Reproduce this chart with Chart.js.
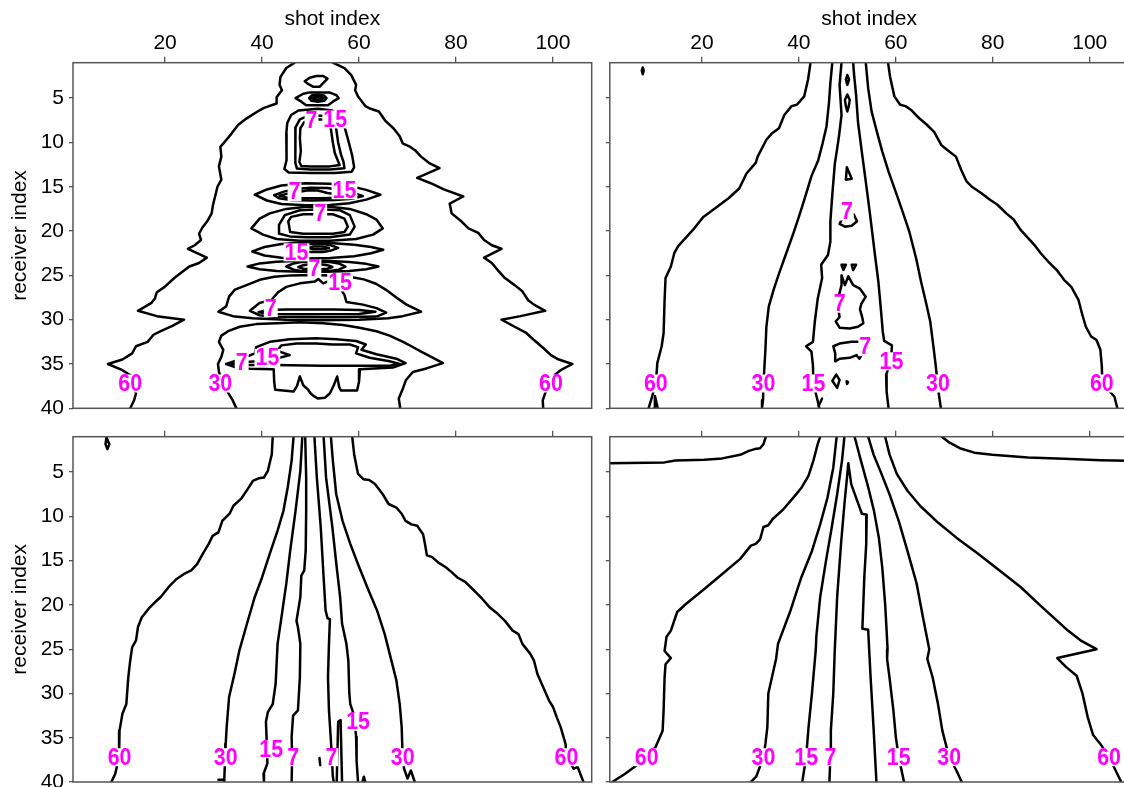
<!DOCTYPE html>
<html><head><meta charset="utf-8">
<script src="https://cdn.jsdelivr.net/npm/chart.js@4.4.0/dist/chart.umd.min.js"></script>
<style>
html,body{margin:0;padding:0;background:#fff;overflow:hidden;width:1124px;height:787px;position:relative;}
canvas{position:absolute;}
</style></head><body>
<canvas id="c1"></canvas><canvas id="c2"></canvas><canvas id="c3"></canvas><canvas id="c4"></canvas>
<script>
// ---------- axes ----------
const shotTicks = [20, 40, 60, 80, 100];
const receiverTicks = [5, 10, 15, 20, 25, 30, 35, 40];
const shotRange = [1, 108];
const receiverRange = [1, 40];

// ---------- panel 1 (top left) contour lines [shot, receiver] ----------
const p1_60L = [[46.7,1.0],[45.0,1.6],[43.8,2.6],[43.6,3.5],[44.1,4.1],[43.0,4.9],[43.0,5.6],[40.4,6.1],[39.4,6.4],[36.5,7.4],[35.1,8.0],[33.7,9.0],[32.5,9.8],[31.4,10.5],[31.6,11.6],[31.1,12.7],[31.6,14.2],[30.8,15.0],[30.4,15.9],[29.9,17.0],[29.6,18.0],[28.8,18.8],[27.7,19.6],[27.0,20.3],[27.4,21.0],[26.1,21.6],[24.7,22.0],[28.6,23.0],[27.0,23.6],[25.0,24.0],[23.1,24.8],[21.9,25.3],[19.9,26.3],[18.3,26.9],[17.9,27.6],[17.2,28.1],[14.4,29.0],[18.3,29.6],[23.9,30.0],[21.5,30.7],[19.1,31.3],[17.6,31.7],[16.4,32.5],[14.0,33.0],[13.2,33.8],[11.2,34.5],[8.2,35.0],[11.2,35.7],[13.2,36.4],[13.6,37.0],[13.3,37.6],[14.0,38.3],[13.6,39.1],[12.8,40]];
const p1_60R = [[54.6,1.0],[57.0,1.6],[58.4,2.4],[59.4,3.5],[59.2,4.1],[59.8,4.8],[61.3,5.9],[62.4,6.2],[64.1,6.5],[65.5,7.6],[67.1,8.4],[68.4,9.3],[69.0,10.1],[70.6,10.5],[71.6,10.9],[72.8,11.6],[74.4,12.3],[76.6,12.9],[72.0,14.0],[74.8,14.6],[77.5,15.3],[81.5,16.1],[78.7,16.9],[79.1,18.0],[81.1,18.9],[82.6,19.7],[84.6,20.2],[85.8,21.0],[87.4,21.6],[89.4,22.0],[85.8,23.0],[87.4,23.6],[88.6,24.4],[90.1,25.3],[92.1,26.1],[93.7,26.8],[94.9,27.8],[96.1,28.3],[98.4,29.0],[93.3,29.6],[89.4,30.0],[92.1,30.8],[94.5,31.5],[96.1,32.3],[98.0,33.2],[99.6,34.0],[101.2,34.5],[104.0,35.0],[101.6,35.7],[100.4,36.2],[99.6,36.8],[99.0,37.6],[98.4,38.3],[97.9,39.1],[98.0,40]];
const p1_T1 = [[48.8,3.1],[49.8,2.7],[51.2,2.5],[52.6,2.5],[53.5,2.8],[52.6,3.3],[51.9,3.7],[50.5,3.7],[49.5,3.4],[48.8,3.1]];
const p1_T2 = [[46.9,5.0],[48.5,4.5],[49.8,4.35],[53.9,4.35],[55.3,4.65],[55.8,5.0],[54.6,5.4],[53.6,5.8],[49.1,5.8],[48.1,5.4],[46.9,5.0]];
const p1_E1 = [[49.7,5.0],[50.2,4.7],[51.5,4.6],[52.8,4.7],[53.3,5.0],[52.8,5.3],[51.5,5.4],[50.2,5.3],[49.7,5.0]];
const p1_E2 = [[50.3,5.0],[50.8,4.87],[51.5,4.83],[52.2,4.87],[52.7,5.0],[52.2,5.13],[51.5,5.17],[50.8,5.13],[50.3,5.0]];
const p1_vase30 = [[47.5,6.4],[46.0,6.9],[45.2,7.8],[45.0,9.0],[45.1,10.5],[45.0,12.0],[44.6,13.0],[45.5,13.4],[50,13.45],[55,13.45],[58.5,13.3],[59.0,12.8],[58.6,11.5],[57.9,10.0],[57.3,8.8],[56.8,7.8],[56.0,6.9],[54.5,6.4],[51.5,6.2],[47.5,6.4]];
const p1_vase15 = [[49.5,7.0],[47.8,7.4],[46.9,8.3],[46.8,9.5],[47.0,11.0],[46.8,12.3],[47.2,12.95],[50,13.05],[54,13.05],[57.0,12.9],[56.8,12.2],[56.3,11.4],[55.7,10.0],[55.3,8.5],[54.8,7.4],[53.0,7.0],[49.5,7.0]];
const p1_vase7 = [[50.5,7.4],[48.7,7.7],[47.9,8.4],[47.8,9.5],[48.0,11.0],[47.7,12.2],[48.1,12.65],[50,12.7],[54,12.7],[56.0,12.55],[55.6,12.0],[55.0,11.2],[54.6,10.0],[54.2,8.5],[53.8,7.7],[52.5,7.4],[50.5,7.4]];
const p1_L16_30 = [[38.5,15.9],[41,15.3],[44,14.85],[49,14.6],[54,14.65],[58,14.9],[61.5,15.35],[64.4,15.9],[61.5,16.45],[58,16.85],[54,17.05],[49,17.1],[44,16.95],[41,16.55],[38.5,15.9]];
const p1_L16_15 = [[42.5,15.95],[44.5,15.55],[47,15.25],[50,15.1],[53.5,15.15],[56.5,15.4],[59.5,15.8],[60.8,16.05],[58.5,16.35],[55,16.5],[50,16.55],[46,16.5],[43.5,16.3],[42.5,15.95]];
const p1_L16_7 = [[43.6,16.0],[45.5,15.75],[47.5,15.6],[49.5,15.4],[51.5,15.42],[53.5,15.7],[56,15.9],[58.8,16.1],[56,16.25],[52,16.3],[48,16.3],[45,16.2],[43.6,16.0]];
const p1_O19_30 = [[37.8,19.7],[39.5,18.6],[41.6,18.0],[45.0,17.5],[49.1,17.25],[53.9,17.25],[58.1,17.5],[61.5,18.1],[63.6,18.7],[64.9,19.7],[62.9,20.4],[59.4,20.9],[53.9,21.1],[47.8,21.1],[43.0,20.9],[40.2,20.4],[37.8,19.7]];
const p1_O19_7 = [[43.5,19.3],[44.7,18.2],[47.8,17.65],[51.9,17.55],[56.0,17.65],[58.1,18.2],[59.1,19.5],[58.1,20.4],[54.0,20.7],[49.1,20.7],[45.7,20.6],[43.6,20.3],[43.5,19.3]];
const p1_O19_in = [[45.4,18.9],[46.0,18.4],[48.5,18.1],[54.6,18.1],[57.0,18.6],[57.7,19.5],[57.0,20.1],[54.6,20.3],[48.5,20.3],[45.8,20.1],[45.4,18.9]];
const p1_L22_30 = [[38.0,22.3],[40.5,21.8],[44,21.45],[49,21.3],[54,21.35],[59,21.55],[62.5,21.8],[65.0,22.1],[62.5,22.5],[59,22.85],[54,23.05],[49,23.1],[44,23.0],[40.5,22.75],[38.0,22.3]];
const p1_L22_15 = [[48.1,21.9],[48.6,21.55],[50,21.45],[52.6,21.45],[54.2,21.6],[55.7,21.9],[54.2,22.2],[52.6,22.35],[50,22.35],[48.8,22.25],[48.1,21.9]];
const p1_L22_7 = [[49.6,21.9],[50.5,21.75],[52.5,21.75],[53.8,21.9],[52.5,22.05],[50.5,22.05],[49.6,21.9]];
const p1_L24_30 = [[37.0,24.0],[39.5,23.65],[43,23.45],[48,23.35],[53,23.35],[58,23.5],[61.5,23.7],[64.0,24.0],[61.5,24.3],[58,24.5],[53,24.6],[48,24.6],[43,24.5],[39.5,24.3],[37.0,24.0]];
const p1_L24_15 = [[45.0,24.0],[46.5,23.65],[48,23.5],[51,23.45],[54,23.5],[55.8,23.65],[57.2,24.0],[55.8,24.35],[54,24.5],[51,24.55],[48,24.5],[46.5,24.35],[45.0,24.0]];
const p1_L24_7 = [[47.5,24.05],[48.5,23.85],[50,23.75],[52,23.75],[53.5,23.85],[54.5,24.05],[53.5,24.25],[52,24.32],[50,24.32],[48.5,24.25],[47.5,24.05]];
const p1_L29_30 = [[31.0,29.1],[32.6,28.5],[33.2,27.4],[34.4,26.6],[36.8,26.1],[39.5,25.5],[42.5,25.15],[46,25.0],[50,24.95],[54,25.0],[58,25.15],[61,25.45],[63.5,25.95],[65.5,26.6],[67.7,27.5],[69.8,28.3],[72.8,29.1],[69,29.6],[66,29.85],[60,30.0],[52,30.05],[45,30.0],[38,29.85],[34,29.6],[31.0,29.1]];
const p1_L29_15 = [[37.5,29.0],[39.5,28.1],[41.9,27.8],[43.3,26.9],[45.0,26.3],[47.8,25.9],[50.9,25.7],[51.6,25.4],[52.6,25.9],[54.0,25.6],[55.3,25.8],[57.0,27.2],[57.4,28.0],[60.8,28.3],[63.6,28.7],[65.6,29.2],[63.6,29.65],[58,29.7],[52.6,29.72],[46,29.7],[42.3,29.68],[39.5,29.5],[37.5,29.0]];
const p1_L29_7 = [[39.3,29.15],[41,28.9],[45,28.85],[55,28.85],[60,28.9],[63.4,29.1],[60,29.35],[50,29.4],[42,29.35],[39.3,29.15]];
const p1_dome30 = [[34.7,40.0],[33.9,39.05],[32.6,37.9],[31.6,36.8],[31.1,35.85],[30.9,35.0],[31.6,34.2],[32.0,33.4],[31.1,32.5],[31.6,31.8],[33.0,31.3],[35.4,30.8],[38.8,30.5],[43.0,30.4],[47.8,30.3],[52.6,30.4],[56.7,30.6],[60.1,30.9],[63.6,31.3],[66.3,31.8],[69.1,32.5],[70.8,33.0],[72.8,33.6],[74.9,34.2],[77.3,34.9],[73.9,35.5],[71.1,35.9],[69.7,36.8],[69.1,37.7],[68.2,38.9],[68.5,40.0]];
const p1_bot15 = [[32.6,35.0],[35.4,34.5],[38.5,33.8],[38.8,33.1],[41.6,32.5],[45.7,32.2],[51.2,32.1],[55.3,32.2],[59.4,32.4],[61.4,32.8],[60.5,33.4],[63.6,33.9],[67.7,34.4],[69.6,34.9],[67.0,35.4],[60.2,35.6],[60.0,37.0],[59.6,38.0],[56.3,38.0],[55.9,37.6],[55.5,36.4],[54.8,37.4],[54.0,38.3],[53.0,38.8],[51.5,38.9],[50.6,38.6],[50.0,38.3],[49.5,37.9],[48.5,37.4],[47.8,36.4],[47.2,37.5],[46.5,38.1],[42.7,37.9],[42.5,37.0],[42.4,35.6],[37.5,35.55],[34.7,35.4],[32.6,35.0]];
const p1_bot7 = [[45.7,34.0],[43.1,33.5],[44.0,32.9],[47.1,32.7],[51.2,32.7],[54.6,32.8],[58.1,32.8],[59.8,33.1],[59.4,33.8],[62.2,34.3],[66.3,34.7],[68.4,35.0],[66.3,35.2],[52.6,35.2],[42.3,35.1],[36.1,35.1],[33.7,35.0],[36.1,34.8],[40.9,34.6],[43.6,34.3],[45.7,34.0]];
const p1_labels = [[50.2,7.5,'7'],[55.1,7.4,'15'],[46.7,15.6,'7'],[57.0,15.4,'15'],[52.0,18.0,'7'],[47.1,22.4,'15'],[50.8,24.2,'7'],[56.1,25.8,'15'],[41.8,28.7,'7'],[35.8,34.8,'7'],[41.1,34.3,'15'],[12.8,37.2,'60'],[31.4,37.2,'30'],[99.6,37.2,'60']];

// ---------- panel 2 (top right) ----------
const p2_60L = [[42.4,1.0],[41.9,2.9],[41.1,4.8],[39.6,5.75],[38.5,5.9],[37.0,6.9],[35.9,8.4],[34.4,9.0],[33.3,9.7],[31.5,11.6],[31.1,12.3],[29.2,13.5],[27.7,15.2],[25.5,16.3],[23.3,17.2],[20.3,18.4],[18.1,19.9],[15.1,21.7],[14.3,22.5],[13.6,24.0],[12.5,25.3],[12.3,27.8],[12.1,31.5],[11.7,33.0],[10.8,34.9],[10.5,37.2],[9.5,39.1],[9.0,40]];
const p2_60R = [[58.4,1.0],[58.8,2.55],[59.7,4.8],[60.9,5.75],[62.0,5.9],[63.1,6.3],[64.9,7.3],[66.4,8.0],[67.9,8.8],[69.4,10.3],[70.5,10.8],[72.4,11.6],[73.5,13.1],[74.6,14.4],[75.7,15.0],[77.6,15.7],[79.5,16.5],[80.9,17.0],[82.8,18.0],[84.3,18.7],[85.8,19.9],[87.3,20.8],[88.8,21.7],[89.9,22.5],[91.7,23.6],[93.2,24.4],[94.7,25.5],[96.2,26.3],[97.7,27.8],[98.4,29.3],[99.2,30.8],[100.3,31.9],[101.4,32.3],[102.2,33.4],[102.5,35.3],[102.6,37.2],[105.1,38.7],[105.7,40]];
const p2_30L = [[46.9,1.0],[46.5,3.3],[46.2,5.6],[45.7,8.2],[44.9,10.1],[44.0,12.0],[42.6,13.8],[41.1,16.5],[40.0,18.4],[38.9,20.2],[37.4,22.5],[35.9,24.8],[34.8,26.6],[33.8,28.5],[33.3,30.8],[33.1,33.4],[32.9,35.3],[32.7,37.2],[32.6,39.1],[32.4,40]];
const p2_30R = [[53.8,1.0],[54.3,3.9],[55.0,6.5],[56.1,8.8],[57.2,11.0],[58.5,13.3],[60.0,15.6],[61.4,17.8],[62.8,20.1],[64.2,23.1],[65.2,25.7],[66.2,28.0],[67.1,30.2],[67.8,33.2],[68.3,35.5],[68.6,37.2],[68.9,38.5],[69.3,40]];
const p2_15L = [[48.8,1.0],[48.4,3.5],[48.8,6.9],[48.3,9.2],[47.9,10.7],[47.4,12.5],[46.9,15.9],[46.5,18.9],[46.5,21.2],[46.0,22.7],[44.6,23.8],[44.8,25.3],[43.9,27.6],[43.3,30.2],[42.9,32.5],[41.5,33.0],[42.6,33.6],[42.9,35.1],[43.0,37.2],[43.9,39.2],[44.2,40]];
const p2_15spur = [[44.1,39.7],[44.8,38.9]];
const p2_15R = [[51.2,1.0],[51.4,2.4],[51.8,4.6],[52.2,7.7],[52.9,10.7],[53.8,14.4],[54.7,18.2],[55.7,22.7],[56.4,25.7],[56.9,28.7],[57.3,31.3],[57.6,32.4],[59.2,32.9],[59.0,34.7],[58.0,36.2],[58.1,38.1],[58.5,40]];
const p2_7a = [[50.0,2.4],[50.35,2.9],[50.0,3.5],[49.7,2.9],[50.0,2.4]];
const p2_7b = [[50.0,4.6],[50.5,5.2],[50.3,5.9],[50.0,6.5],[49.7,5.9],[49.5,5.2],[50.0,4.6]];
const p2_7c = [[49.9,12.8],[50.3,13.3],[50.9,14.1],[49.7,14.2],[49.9,12.8]];
const p2_7d = [[50.0,17.8],[51.3,18.1],[52.0,18.9],[50.9,19.4],[49.5,19.5],[48.4,19.2],[48.8,18.75],[50.0,17.8]];
const p2_7e = [[48.8,23.8],[49.7,23.8],[49.2,24.4],[48.8,23.8]];
const p2_7f = [[50.9,23.8],[51.8,23.8],[51.2,24.4],[50.9,23.8]];
const p2_7g = [[48.8,25.0],[49.5,26.1],[50.2,25.1],[51.2,26.1],[52.6,26.5],[53.8,27.4],[52.9,28.2],[52.6,28.8],[53.1,29.8],[53.3,30.4],[52.2,30.8],[50.5,31.0],[48.4,30.9],[47.6,30.2],[48.4,29.7],[48.1,28.7],[48.4,28.2],[48.3,27.2],[48.8,26.1],[48.8,25.0]];
const p2_7h = [[47.1,33.0],[48.4,32.7],[50.9,32.5],[52.6,32.5],[53.3,32.9],[53.6,33.2],[52.9,34.0],[52.5,34.4],[51.9,34.0],[50.5,34.3],[48.4,34.4],[47.6,34.7],[47.5,33.8],[47.1,33.0]];
const p2_7i = [[47.7,36.2],[48.4,36.8],[47.9,37.7],[46.9,36.9],[47.7,36.2]];
const p2_7j = [[49.85,36.95],[50.15,37.05],[49.95,37.25],[49.85,36.95]];
const p2_60dot = [[7.8,1.55],[8.0,1.9],[7.8,2.3],[7.6,1.9],[7.8,1.55]];
const p2_60loop = [[10.2,40],[10.3,38.6],[10.9,40]];
const p2_labels = [[10.5,37.2,'60'],[32.7,37.2,'30'],[43.0,37.2,'15'],[68.7,37.2,'30'],[102.5,37.2,'60'],[59.1,34.7,'15'],[53.7,33.1,'7'],[48.4,28.2,'7'],[49.9,17.8,'7']];

// ---------- panel 3 (bottom left) ----------
const p3_60L = [[42.2,1.0],[42.0,3.0],[41.2,4.85],[40.4,5.6],[39.3,5.7],[38.1,6.0],[37.3,6.7],[35.7,8.0],[34.1,8.8],[33.3,9.7],[31.8,10.5],[31.0,11.8],[29.8,12.2],[29.0,13.1],[27.8,14.2],[26.6,15.4],[25.4,16.1],[23.9,16.5],[22.3,17.1],[20.7,18.0],[19.1,19.1],[17.9,19.7],[16.8,20.3],[15.2,21.4],[14.4,22.5],[14.0,24.0],[13.2,24.8],[12.8,26.3],[12.4,28.2],[12.0,31.2],[11.2,32.3],[10.6,34.2],[10.5,37.2],[9.7,39.1],[8.9,40]];
const p3_60R = [[58.6,1.0],[59.0,3.0],[59.8,5.2],[60.9,5.8],[62.1,5.9],[63.3,6.35],[64.9,7.5],[66.1,8.6],[67.7,9.0],[68.8,9.7],[69.6,10.5],[70.8,10.9],[72.0,11.05],[73.2,12.0],[73.6,13.1],[74.0,14.4],[75.1,14.6],[76.3,15.2],[77.9,15.75],[79.1,16.3],[80.3,16.9],[81.9,17.4],[83.8,18.4],[85.4,19.3],[87.0,20.3],[88.6,21.0],[90.1,21.8],[91.7,22.9],[92.9,23.3],[93.7,24.4],[95.3,25.5],[96.1,26.3],[96.8,27.8],[98.0,29.3],[99.2,30.8],[100.0,31.5],[100.8,32.7],[101.6,33.8],[102.6,35.7],[102.8,37.2],[104.3,38.5],[105.1,38.3],[106.3,40]];
const p3_30L = [[46.5,1.0],[46.1,3.7],[45.3,6.7],[44.4,9.4],[43.2,11.6],[41.6,14.2],[40.0,16.9],[38.5,19.1],[36.9,22.1],[35.3,25.2],[34.3,27.8],[33.2,30.4],[32.7,33.8],[32.5,35.7],[32.4,37.2],[32.2,39.7],[32.2,40]];
const p3_30hook = [[31.0,39.75],[32.2,39.75]];
const p3_30R = [[54.2,1.0],[54.6,3.7],[55.3,7.5],[56.6,10.5],[58.2,13.1],[59.8,15.4],[61.7,18.0],[63.7,20.6],[65.3,23.3],[66.5,25.9],[67.7,28.5],[68.4,31.2],[68.8,33.8],[69.0,37.2],[69.3,38.5],[70.0,39.6],[70.7,38.7],[71.5,40]];
const p3_15L = [[48.3,1.0],[47.9,4.85],[46.9,9.4],[45.8,13.9],[45.0,17.6],[44.0,21.4],[43.2,24.4],[42.8,28.9],[42.2,31.2],[41.2,32.1],[40.8,33.2],[41.0,36.0],[41.1,37.9],[40.3,39.1],[40.4,40]];
const p3_15R = [[52.7,1.0],[53.2,5.6],[54.5,11.2],[55.4,15.75],[56.1,19.1],[56.5,22.1],[57.4,24.4],[57.8,26.3],[58.0,30.0],[58.2,31.2],[59.0,32.5],[59.4,34.9],[59.5,37.6],[59.8,40]];
const p3_7L = [[48.9,1.0],[49.1,5.6],[49.1,9.4],[49.0,13.9],[48.7,16.1],[48.1,16.7],[47.9,19.1],[47.1,21.8],[47.4,22.5],[47.9,24.4],[47.8,28.2],[47.4,31.9],[46.4,32.5],[46.1,34.9],[46.2,37.2],[46.1,40]];
const p3_7R = [[50.8,1.0],[51.3,5.6],[52.1,11.2],[52.7,16.9],[53.1,20.6],[53.5,21.5],[54.0,21.6],[53.8,24.4],[53.6,28.2],[53.8,31.9],[54.2,35.3],[54.4,37.2],[54.6,39.4],[54.8,40]];
const p3_7tongue = [[55.4,40],[55.7,33.2],[56.2,33.0],[56.5,40]];
const p3_60loop = [[7.9,1.1],[8.5,1.84],[8.1,2.4],[7.7,1.84],[7.9,1.1]];
const p3_dot = [[51.85,37.3],[52.0,38.1]];
const p3_spike = [[60.7,40],[61.0,39.4],[61.3,40]];
const p3_labels = [[10.6,37.2,'60'],[32.5,37.2,'30'],[41.9,36.3,'15'],[46.4,37.2,'7'],[54.3,37.2,'7'],[59.8,33.2,'15'],[69.0,37.2,'30'],[102.8,37.2,'60']];

// ---------- panel 4 (bottom right) ----------
const p4_top60L = [[1.0,4.0],[12.3,3.9],[14.5,3.7],[20.5,3.6],[24.2,3.45],[27.9,3.05],[29.7,2.6],[30.9,2.4],[32.0,2.3],[32.7,1.84],[33.2,1.0]];
const p4_top60R = [[69.5,1.0],[71.0,1.65],[73.2,2.3],[76.2,2.8],[79.9,3.05],[87.3,3.35],[94.7,3.5],[102.2,3.65],[108,3.72]];
const p4_60L = [[1.5,40],[4.1,39.1],[7.8,37.6],[10.4,36.1],[11.9,34.2],[12.1,31.9],[12.3,28.2],[12.5,26.7],[13.6,26.0],[12.3,25.2],[12.7,23.6],[13.6,22.9],[14.1,22.1],[14.9,20.8],[16.7,19.9],[20.5,18.2],[24.2,16.5],[27.9,14.8],[30.1,13.3],[31.1,13.1],[32.0,12.6],[32.7,11.2],[33.7,11.0],[34.6,10.3],[36.8,9.2],[39.0,7.8],[40.5,6.8],[42.0,5.4],[43.0,3.7],[43.9,1.8],[44.4,1.0]];
const p4_30L = [[47.8,1.0],[47.1,4.5],[45.9,7.9],[44.4,10.9],[42.7,13.9],[40.5,16.9],[38.3,20.6],[35.7,24.4],[35.3,26.1],[34.6,27.8],[33.7,30.0],[33.5,33.8],[33.1,35.7],[32.7,37.2],[31.2,39.4],[30.1,40]];
const p4_15L = [[49.4,1.0],[48.9,3.7],[47.9,7.5],[46.8,11.2],[45.6,15.0],[44.4,19.1],[43.6,23.6],[43.5,25.0],[42.7,30.0],[42.0,33.8],[41.5,37.2],[40.7,40]];
const p4_7 = [[46.3,40],[46.5,37.2],[46.6,34.2],[47.1,30.0],[47.4,25.2],[47.9,19.1],[48.7,13.1],[49.4,8.6],[50.0,5.2],[50.2,4.0],[50.8,6.35],[52.0,8.2],[53.0,9.7],[54.0,9.8],[53.9,13.1],[53.5,16.9],[53.1,22.7],[54.3,22.8],[54.5,25.0],[54.8,28.2],[55.4,33.8],[56.0,40]];
const p4_15R = [[51.5,1.0],[52.8,3.7],[54.3,6.7],[55.5,9.4],[56.5,12.4],[57.2,15.75],[57.8,19.9],[58.1,22.9],[58.3,25.0],[58.2,26.1],[58.7,28.2],[59.5,31.9],[60.0,34.9],[60.6,37.2],[61.7,40]];
const p4_30R = [[54.3,1.0],[55.4,3.0],[56.9,5.0],[58.7,7.5],[60.6,10.5],[62.4,13.9],[64.3,17.6],[65.6,21.4],[66.9,25.0],[66.5,26.1],[67.6,28.2],[68.7,31.2],[69.6,34.2],[71.0,37.2],[72.5,38.7],[73.6,40]];
const p4_60R = [[57.8,1.0],[58.7,3.0],[60.2,5.2],[62.4,7.1],[65.0,8.8],[68.7,10.7],[72.5,12.4],[76.9,14.2],[81.4,16.1],[85.8,18.0],[89.5,19.9],[93.3,21.8],[95.5,22.9],[98.1,24.0],[101.4,25.0],[93.3,26.0],[95.1,27.0],[97.3,28.0],[98.5,30.0],[99.6,32.7],[100.7,34.7],[102.2,35.7],[104.0,37.2],[105.7,39.1],[106.5,40]];
const p4_labels = [[8.6,37.2,'60'],[32.7,37.2,'30'],[41.5,37.2,'15'],[46.5,37.2,'7'],[60.6,37.2,'15'],[71.0,37.2,'30'],[104.0,37.2,'60']];

const FONT = '"Liberation Sans", Arial, Helvetica, sans-serif';

function framePlugin() {
  return { id: 'frame', afterDraw(chart) {
    const a = chart.chartArea, ctx = chart.ctx;
    ctx.save(); ctx.strokeStyle = '#555'; ctx.lineWidth = 1.5;
    ctx.strokeRect(a.left, a.top, a.right - a.left, a.bottom - a.top);
    ctx.restore();
  }};
}
function labelPlugin(items) {
  return { id: 'clabels', afterDatasetsDraw(chart) {
    const ctx = chart.ctx, xs = chart.scales.x, ys = chart.scales.y;
    ctx.save();
    ctx.font = 'bold 23px ' + FONT;
    ctx.textAlign = 'center'; ctx.textBaseline = 'middle';
    for (const it of items) {
      const px = xs.getPixelForValue(it[0]), py = ys.getPixelForValue(it[1]);
      const w = ctx.measureText(it[2]).width * 0.93;
      ctx.fillStyle = '#fff';
      ctx.fillRect(px - w / 2 - 1, py - 9, w + 2, 18);
      ctx.save(); ctx.translate(px, py); ctx.scale(0.93, 1);
      ctx.fillStyle = '#ff00ff'; ctx.fillText(it[2], 0, 1);
      ctx.restore();
    }
    ctx.restore();
  }};
}

function makePanel(cfg) {
  const cv = document.getElementById(cfg.id);
  cv.width = cfg.w; cv.height = cfg.h;
  cv.style.width = cfg.w + 'px'; cv.style.height = cfg.h + 'px';
  cv.style.left = cfg.x + 'px'; cv.style.top = cfg.y + 'px';
  const datasets = cfg.lines.map(pts => ({
    data: pts.map(p => ({ x: p[0], y: p[1] })),
    showLine: true, borderColor: '#000', borderWidth: 2.5,
    pointRadius: 0, pointHoverRadius: 0, fill: false, tension: 0,
    borderJoinStyle: 'round', borderCapStyle: 'round'
  }));
  new Chart(cv, {
    type: 'scatter',
    data: { datasets },
    options: {
      responsive: false, animation: false, devicePixelRatio: 1, events: [],
      layout: { padding: { left: 0, top: 0, right: cfg.padR, bottom: cfg.padB } },
      plugins: { legend: { display: false }, tooltip: { enabled: false } },
      scales: {
        x: {
          type: 'linear', position: 'top', min: shotRange[0], max: shotRange[1],
          afterBuildTicks: s => { s.ticks = shotTicks.map(v => ({ value: v })); },
          afterFit: s => { s.height = cfg.axisH; s.paddingLeft = 0; s.paddingRight = 0; },
          ticks: { display: cfg.xLabels, color: '#000', font: { family: FONT, size: 21 }, padding: 1, maxRotation: 0, autoSkip: false },
          grid: { drawOnChartArea: false, drawTicks: true, tickLength: 6, color: '#555', lineWidth: 1.3 },
          border: { display: false },
          title: { display: cfg.xLabels, text: 'shot index', color: '#000', font: { family: FONT, size: 21 }, padding: { top: 7, bottom: 0 } }
        },
        y: {
          type: 'linear', position: 'left', reverse: true, min: receiverRange[0], max: receiverRange[1],
          afterBuildTicks: s => { s.ticks = receiverTicks.map(v => ({ value: v })); },
          afterFit: s => { s.width = cfg.axisW; s.paddingTop = 0; s.paddingBottom = 0; },
          ticks: { display: cfg.yLabels, color: '#000', font: { family: FONT, size: 21 }, padding: 5, autoSkip: false },
          grid: { drawOnChartArea: false, drawTicks: true, tickLength: 4, color: '#555', lineWidth: 1.3 },
          border: { display: false },
          title: { display: cfg.yLabels, text: 'receiver index', color: '#000', font: { family: FONT, size: 21 }, padding: { top: 8, bottom: 0 } }
        }
      }
    },
    plugins: [framePlugin(), labelPlugin(cfg.labels)]
  });
}

makePanel({ id: 'c1', x: 0, y: 0, w: 600, h: 420, axisW: 73, axisH: 62.7, padR: 8.3, padB: 11.7, xLabels: true, yLabels: true,
  lines: [p1_60L, p1_60R, p1_T1, p1_T2, p1_E1, p1_E2, p1_vase30, p1_vase15, p1_vase7, p1_L16_30, p1_L16_15, p1_L16_7,
          p1_O19_30, p1_O19_7, p1_O19_in, p1_L22_30, p1_L22_15, p1_L22_7, p1_L24_30, p1_L24_15, p1_L24_7,
          p1_L29_30, p1_L29_15, p1_L29_7, p1_dome30, p1_bot15, p1_bot7], labels: p1_labels });
makePanel({ id: 'c2', x: 600, y: 0, w: 540, h: 420, axisW: 9.8, axisH: 62.7, padR: 11.5, padB: 11.7, xLabels: true, yLabels: false,
  lines: [p2_60L, p2_60R, p2_30L, p2_30R, p2_15L, p2_15spur, p2_15R, p2_7a, p2_7b, p2_7c, p2_7d, p2_7e, p2_7f, p2_7g, p2_7h, p2_7i, p2_7j, p2_60dot, p2_60loop], labels: p2_labels });
makePanel({ id: 'c3', x: 0, y: 420, w: 600, h: 367, axisW: 73, axisH: 16.7, padR: 8.3, padB: 5, xLabels: false, yLabels: true,
  lines: [p3_60L, p3_60R, p3_30L, p3_30hook, p3_30R, p3_15L, p3_15R, p3_7L, p3_7R, p3_7tongue, p3_60loop, p3_dot, p3_spike], labels: p3_labels });
makePanel({ id: 'c4', x: 600, y: 420, w: 540, h: 367, axisW: 9.8, axisH: 16.7, padR: 11.5, padB: 5, xLabels: false, yLabels: false,
  lines: [p4_top60L, p4_top60R, p4_60L, p4_30L, p4_15L, p4_7, p4_15R, p4_30R, p4_60R], labels: p4_labels });
</script>
</body></html>
